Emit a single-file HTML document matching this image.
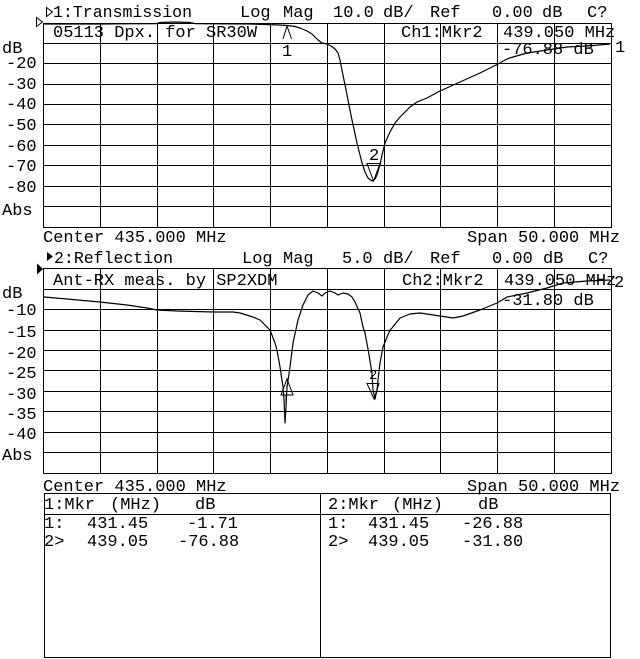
<!DOCTYPE html>
<html>
<head>
<meta charset="utf-8">
<style>
html,body{margin:0;padding:0;background:#fff;}
svg{display:block;}
text{font-family:"Liberation Mono","DejaVu Sans Mono",monospace;font-size:17px;fill:#000;}
</style>
</head>
<body>
<svg width="640" height="659" viewBox="0 0 640 659" xmlns="http://www.w3.org/2000/svg">
<rect x="0" y="0" width="640" height="659" fill="#fff"/>

<!-- ===== Panel 1 grid ===== -->
<g stroke="#000" stroke-width="1" fill="none" shape-rendering="crispEdges">
  <rect x="43.5" y="23.5" width="568" height="204"/>
  <path d="M100.5 23.5V227.5M157.5 23.5V227.5M213.5 23.5V227.5M270.5 23.5V227.5M327.5 23.5V227.5M384.5 23.5V227.5M440.5 23.5V227.5M497.5 23.5V227.5M554.5 23.5V227.5"/>
  <path d="M43.5 43.5H611.5M43.5 63.5H611.5M43.5 84.5H611.5M43.5 104.5H611.5M43.5 124.5H611.5M43.5 145.5H611.5M43.5 165.5H611.5M43.5 186.5H611.5M43.5 206.5H611.5"/>
</g>

<!-- ===== Panel 2 grid ===== -->
<g stroke="#000" stroke-width="1" fill="none" shape-rendering="crispEdges">
  <rect x="43.5" y="268.5" width="568" height="205"/>
  <path d="M100.5 268.5V473.5M157.5 268.5V473.5M213.5 268.5V473.5M270.5 268.5V473.5M327.5 268.5V473.5M384.5 268.5V473.5M440.5 268.5V473.5M497.5 268.5V473.5M554.5 268.5V473.5"/>
  <path d="M43.5 289.5H611.5M43.5 309.5H611.5M43.5 330.5H611.5M43.5 350.5H611.5M43.5 370.5H611.5M43.5 391.5H611.5M43.5 411.5H611.5M43.5 432.5H611.5M43.5 452.5H611.5"/>
</g>

<!-- ===== Table ===== -->
<g stroke="#000" stroke-width="1" fill="none" shape-rendering="crispEdges">
  <rect x="44.5" y="493.5" width="566" height="164"/>
  <path d="M44.5 514.5H610.5M320.5 493.5V657.5"/>
</g>

<!-- ===== Panel 1 header ===== -->
<polygon points="46.5,7.5 52.5,12 46.5,16.5" fill="none" stroke="#000" stroke-width="1"/>
<text x="53" y="17" textLength="139" lengthAdjust="spacingAndGlyphs">1:Transmission</text>
<text x="240" y="17">Log</text>
<text x="283" y="17">Mag</text>
<text x="333" y="17">10.0</text>
<text x="383" y="17">dB/</text>
<text x="430" y="17">Ref</text>
<text x="492" y="17">0.00</text>
<text x="542" y="17">dB</text>
<text x="587" y="17">C?</text>
<!-- ref position marker -->
<polygon points="36.5,17.5 42.5,22 36.5,26.5" fill="none" stroke="#000" stroke-width="1"/>

<!-- annotations inside grid 1 -->
<text x="53" y="37">05113 Dpx. for SR30W</text>
<text x="401" y="37">Ch1:Mkr2</text>
<text x="503" y="37">439.050 MHz</text>
<text x="502" y="54">-76.88 dB</text>
<text x="615" y="52">1</text>

<!-- left labels panel 1 -->
<text x="2" y="53">dB</text>
<text x="6" y="68">-20</text>
<text x="6" y="89">-30</text>
<text x="6" y="109">-40</text>
<text x="6" y="130">-50</text>
<text x="6" y="151">-60</text>
<text x="6" y="171">-70</text>
<text x="6" y="192">-80</text>
<text x="2" y="215">Abs</text>

<text x="43" y="242">Center 435.000 MHz</text>
<text x="467" y="242">Span 50.000 MHz</text>

<!-- Trace 1 -->
<polyline fill="none" stroke="#000" stroke-width="1.2" stroke-linejoin="round" points="
43,24 100,24 157,23.6 160,22.5 175,22 190,22.5 195,23.6 250,24 280,25 287,25.5 295,26.5 300,28 307,31 312,34 318,40 322,43 327,44 331,46 335,49 338,53 340,60 342,70 347,95 352,120 357,143 362,163 365,172 368,178 372,181 375,179 377,175 380,165 382,155 385,143 390,132 395,123 400,117 405,112 410,107 417,102 427,98 440,91 460,82 480,73 498,64 507,59 513,57 527,53 547,50 567,47 587,46 610,44"/>

<!-- Marker 1 trace 1 -->
<polyline points="283,39 287,26 291.5,39" fill="none" stroke="#000" stroke-width="1"/>
<text x="282" y="56">1</text>
<!-- Marker 2 trace 1 -->
<polygon points="367,163.5 380,163.5 373.5,181" fill="none" stroke="#000" stroke-width="1"/>
<text x="369" y="160">2</text>

<!-- ===== Panel 2 header ===== -->
<polygon points="47,252 53,256.5 47,261" fill="#000"/>
<text x="54" y="263" textLength="119" lengthAdjust="spacingAndGlyphs">2:Reflection</text>
<text x="242" y="263">Log</text>
<text x="283" y="263">Mag</text>
<text x="342" y="263">5.0</text>
<text x="383" y="263">dB/</text>
<text x="430" y="263">Ref</text>
<text x="492" y="263">0.00</text>
<text x="543" y="263">dB</text>
<text x="588" y="263">C?</text>
<polygon points="37,263.5 43,269 37,274.5" fill="#000"/>

<text x="53" y="285">Ant-RX meas. by SP2XDM</text>
<text x="402" y="285">Ch2:Mkr2</text>
<text x="504" y="285">439.050 MHz</text>
<text x="502" y="305">-31.80 dB</text>
<text x="614" y="287">2</text>

<!-- left labels panel 2 -->
<text x="2" y="298">dB</text>
<text x="6" y="315">-10</text>
<text x="6" y="337">-15</text>
<text x="6" y="358">-20</text>
<text x="6" y="378">-25</text>
<text x="6" y="399">-30</text>
<text x="6" y="419">-35</text>
<text x="6" y="439">-40</text>
<text x="2" y="460">Abs</text>

<text x="43" y="491">Center 435.000 MHz</text>
<text x="467" y="491">Span 50.000 MHz</text>

<!-- Trace 2 -->
<polyline fill="none" stroke="#000" stroke-width="1.2" stroke-linejoin="round" points="
44,297 67,299 100,302 127,305 147,308 157,310 177,311 213,312 233,312 240,313 253,317 260,320 263,323 270,330 275,343 277,350 280,367 283,387 284,400 285,423 286,407 287,387 290,367 293,343 298,320 303,305 308,295 313,291 318,293 322,296 325,293 330,291 335,293 338,295 343,293 348,294 352,297 355,302 360,313 363,327 365,333 368,349 372,373 373,390 375,399 377,390 378,380 380,363 383,347 385,342 390,330 392,328 400,318 410,314 420,313 440,316 453,318 463,316 480,310 497,303 507,297 527,293 547,288 563,283 587,281 610,280"/>

<!-- Marker 1 trace 2 -->
<polygon points="281,395 293,395 287,379" fill="none" stroke="#000" stroke-width="1"/>
<path d="M286 395V413" stroke="#000" stroke-width="1"/>
<!-- Marker 2 trace 2 -->
<polygon points="367,383.5 379,383.5 374,399" fill="none" stroke="#000" stroke-width="1"/>
<text x="369" y="379" style="font-size:14px">2</text>

<!-- ===== Table text ===== -->
<text x="44" y="509">1:Mkr</text>
<text x="110" y="509">(MHz)</text>
<text x="195" y="509">dB</text>
<text x="44" y="528">1:</text>
<text x="87" y="528">431.45</text>
<text x="187" y="528">-1.71</text>
<text x="44" y="546">2&gt;</text>
<text x="87" y="546">439.05</text>
<text x="178" y="546">-76.88</text>

<text x="328" y="509">2:Mkr</text>
<text x="392" y="509">(MHz)</text>
<text x="478" y="509">dB</text>
<text x="328" y="528">1:</text>
<text x="368" y="528">431.45</text>
<text x="462" y="528">-26.88</text>
<text x="328" y="546">2&gt;</text>
<text x="368" y="546">439.05</text>
<text x="462" y="546">-31.80</text>
</svg>
</body>
</html>
